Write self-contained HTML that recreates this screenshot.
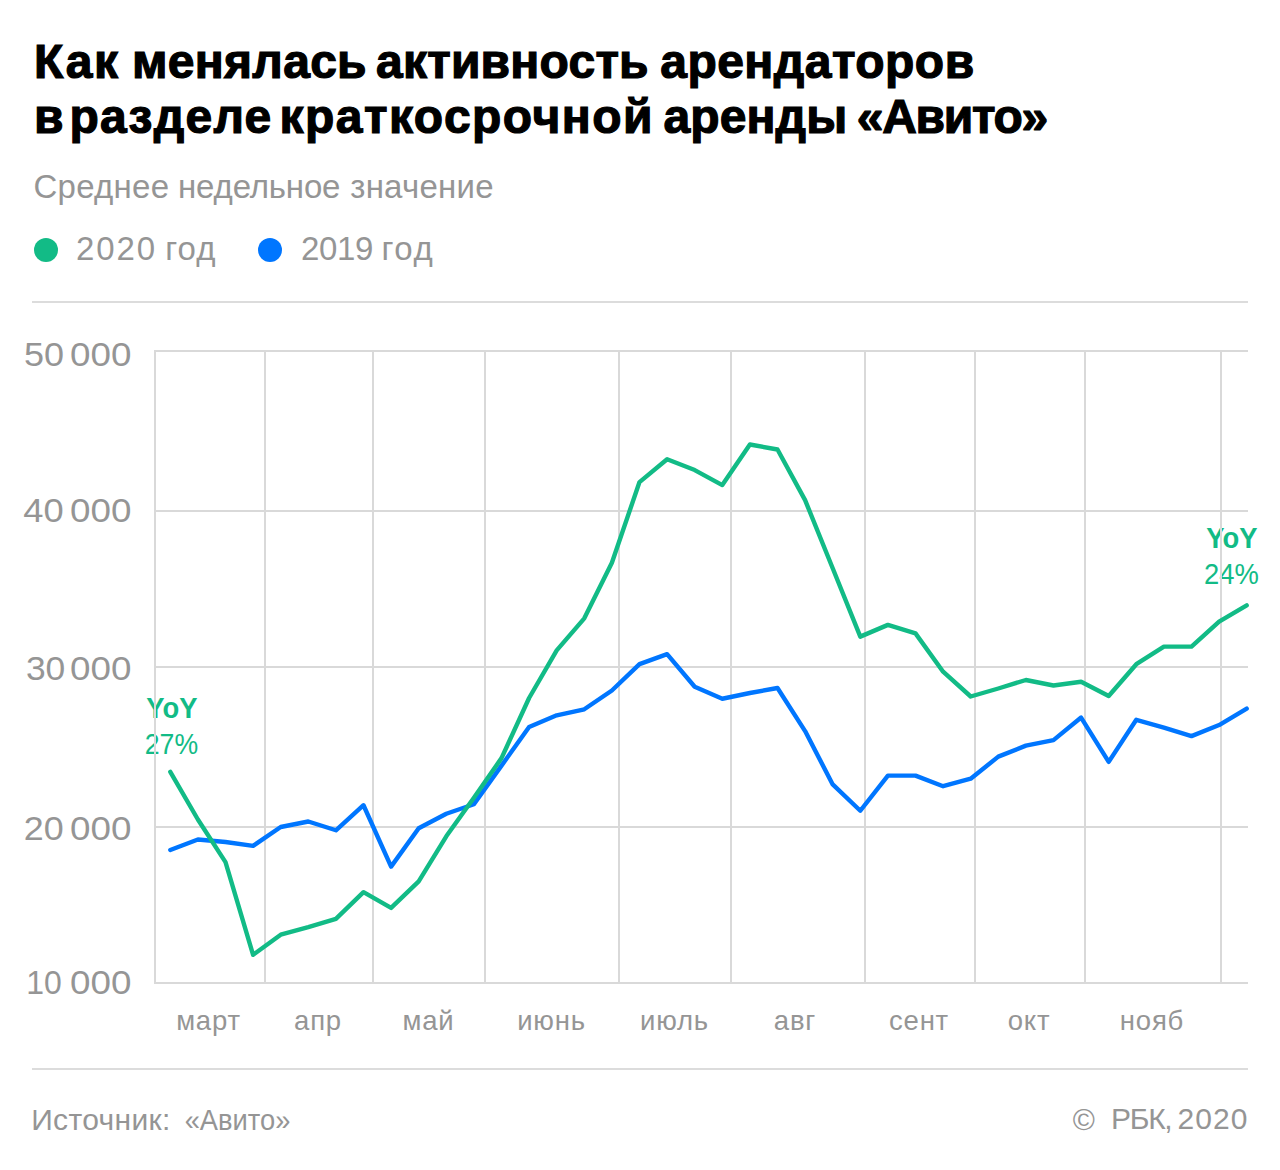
<!DOCTYPE html>
<html><head><meta charset="utf-8"><style>
html,body{margin:0;padding:0;background:#fff;}
svg{display:block;font-family:"Liberation Sans",sans-serif;}
</style></head><body>
<svg width="1280" height="1170" viewBox="0 0 1280 1170">
<rect width="1280" height="1170" fill="#fff"/>
<g font-weight="700" font-size="48" fill="#000" stroke="#000" stroke-width="1.2">
<text x="34.00" y="77.5" letter-spacing="1.75">Как</text>
<text x="132.00" y="77.5" letter-spacing="0.29">менялась</text>
<text x="376.00" y="77.5" letter-spacing="0.22">активность</text>
<text x="660.25" y="77.5" letter-spacing="0.47">арендаторов</text>
<text x="34.00" y="133" letter-spacing="0.00">в</text>
<text x="69.50" y="133" letter-spacing="1.25">разделе</text>
<text x="279.50" y="133" letter-spacing="1.46">краткосрочной</text>
<text x="663.50" y="133" letter-spacing="0.10">аренды</text>
<text x="856.75" y="133" letter-spacing="-1.29">«Авито»</text>
</g>
<g fill="#959595" font-size="33">
<text x="33.50" y="198.3" letter-spacing="0.25">Среднее</text>
<text x="178.00" y="198.3" letter-spacing="-0.16">недельное</text>
<text x="350.25" y="198.3" letter-spacing="0.25">значение</text>
<text x="76.10" y="259.6" letter-spacing="1.88">2020</text>
<text x="165.20" y="259.6" letter-spacing="1.05">год</text>
<text x="301.10" y="259.6" letter-spacing="-0.40">2019</text>
<text x="381.40" y="259.6" letter-spacing="1.55">год</text>
</g>
<circle cx="46" cy="250" r="12" fill="#12bb86"/>
<circle cx="270" cy="250" r="12" fill="#0076ff"/>
<rect x="32" y="301" width="1216" height="2" fill="#dcdcdc"/>
<g fill="#12bb86" font-size="29.5">
<text transform="translate(146.37,718) scale(0.9283,1)" font-weight="700">YoY</text>
<text transform="translate(144.79,753.9) scale(0.9036,1)">27%</text>
<text transform="translate(1206.37,548) scale(0.9283,1)" font-weight="700">YoY</text>
<text transform="translate(1204.04,583.9) scale(0.9286,1)">24%</text>
</g>
<g stroke="#d9d9d9" stroke-width="2">
<line x1="154" y1="351" x2="1248" y2="351"/>
<line x1="154" y1="511" x2="1248" y2="511"/>
<line x1="154" y1="667" x2="1248" y2="667"/>
<line x1="154" y1="827" x2="1248" y2="827"/>
<line x1="154" y1="983" x2="1248" y2="983"/>
<line x1="155" y1="350" x2="155" y2="984"/>
<line x1="265" y1="350" x2="265" y2="984"/>
<line x1="373" y1="350" x2="373" y2="984"/>
<line x1="485" y1="350" x2="485" y2="984"/>
<line x1="619" y1="350" x2="619" y2="984"/>
<line x1="731" y1="350" x2="731" y2="984"/>
<line x1="865" y1="350" x2="865" y2="984"/>
<line x1="975" y1="350" x2="975" y2="984"/>
<line x1="1085" y1="350" x2="1085" y2="984"/>
<line x1="1221" y1="350" x2="1221" y2="984"/>
</g>
<g fill="#959595" font-size="33">
<text transform="translate(24.02,366) scale(1.0909,1)">50</text>
<text transform="translate(70.08,366) scale(1.1151,1)">000</text>
<text transform="translate(23.20,522) scale(1.1000,1)">40</text>
<text transform="translate(70.08,522) scale(1.1151,1)">000</text>
<text transform="translate(25.93,680) scale(1.0735,1)">30</text>
<text transform="translate(70.08,680) scale(1.1151,1)">000</text>
<text transform="translate(23.82,839.5) scale(1.0879,1)">20</text>
<text transform="translate(70.08,839.5) scale(1.1151,1)">000</text>
<text transform="translate(26.29,994) scale(0.9688,1)">10</text>
<text transform="translate(70.08,994) scale(1.1151,1)">000</text>
</g>
<g fill="#959595" font-size="27.5" letter-spacing="0.8">
<text x="208.5" y="1030" text-anchor="middle">март</text>
<text x="318" y="1030" text-anchor="middle">апр</text>
<text x="428.5" y="1030" text-anchor="middle">май</text>
<text x="551.5" y="1030" text-anchor="middle">июнь</text>
<text x="674.5" y="1030" text-anchor="middle">июль</text>
<text x="795" y="1030" text-anchor="middle">авг</text>
<text x="919" y="1030" text-anchor="middle">сент</text>
<text x="1029" y="1030" text-anchor="middle">окт</text>
<text x="1152" y="1030" text-anchor="middle">нояб</text>
</g>
<polyline points="170.30,850.06 197.90,839.54 225.50,842.05 253.10,845.81 280.70,827.02 308.30,821.51 335.90,830.27 363.50,805.23 391.10,866.60 418.70,828.27 446.30,813.74 473.90,804.22 501.50,765.65 529.10,727.07 556.70,715.35 584.30,709.28 611.90,690.50 639.50,664.19 667.10,654.17 694.70,686.74 722.30,698.76 749.90,693.00 777.50,687.99 805.10,731.08 832.70,784.43 860.30,810.74 887.90,775.67 915.50,775.67 943.10,786.19 970.70,778.67 998.30,756.63 1025.90,745.61 1053.50,740.10 1081.10,717.55 1108.70,761.89 1136.30,719.80 1163.90,727.57 1191.50,736.09 1219.10,725.07 1246.70,708.53" fill="none" stroke="#0076ff" stroke-width="4.4" stroke-linejoin="round" stroke-linecap="round"/>
<polyline points="170.30,771.91 197.90,819.50 225.50,862.09 253.10,954.77 280.70,934.73 308.30,927.22 335.90,918.95 363.50,892.15 391.10,907.93 418.70,881.38 446.30,836.29 473.90,797.71 501.50,758.13 529.10,698.01 556.70,650.42 584.30,618.35 611.90,562.74 639.50,482.08 667.10,459.28 694.70,470.06 722.30,485.09 749.90,444.50 777.50,449.51 805.10,500.12 832.70,568.25 860.30,636.64 887.90,624.87 915.50,633.38 943.10,671.71 970.70,696.51 998.30,688.49 1025.90,679.98 1053.50,685.49 1081.10,681.73 1108.70,696.01 1136.30,664.19 1163.90,646.66 1191.50,646.66 1219.10,621.61 1246.70,605.33" fill="none" stroke="#12bb86" stroke-width="4.4" stroke-linejoin="round" stroke-linecap="round"/>
<rect x="32" y="1068" width="1216" height="2" fill="#dcdcdc"/>
<g fill="#959595" font-size="30">
<text x="31.20" y="1129.6" letter-spacing="0.35">Источник:</text>
<text transform="translate(184.69,1129.6) scale(0.9105,1)">«Авито»</text>
<text x="1072.80" y="1129.6" letter-spacing="0.00">©</text>
<text x="1111.10" y="1129.2" letter-spacing="-1.30">РБК,</text>
<text x="1177.50" y="1129.2" letter-spacing="1.07">2020</text>
</g>
</svg>
</body></html>
